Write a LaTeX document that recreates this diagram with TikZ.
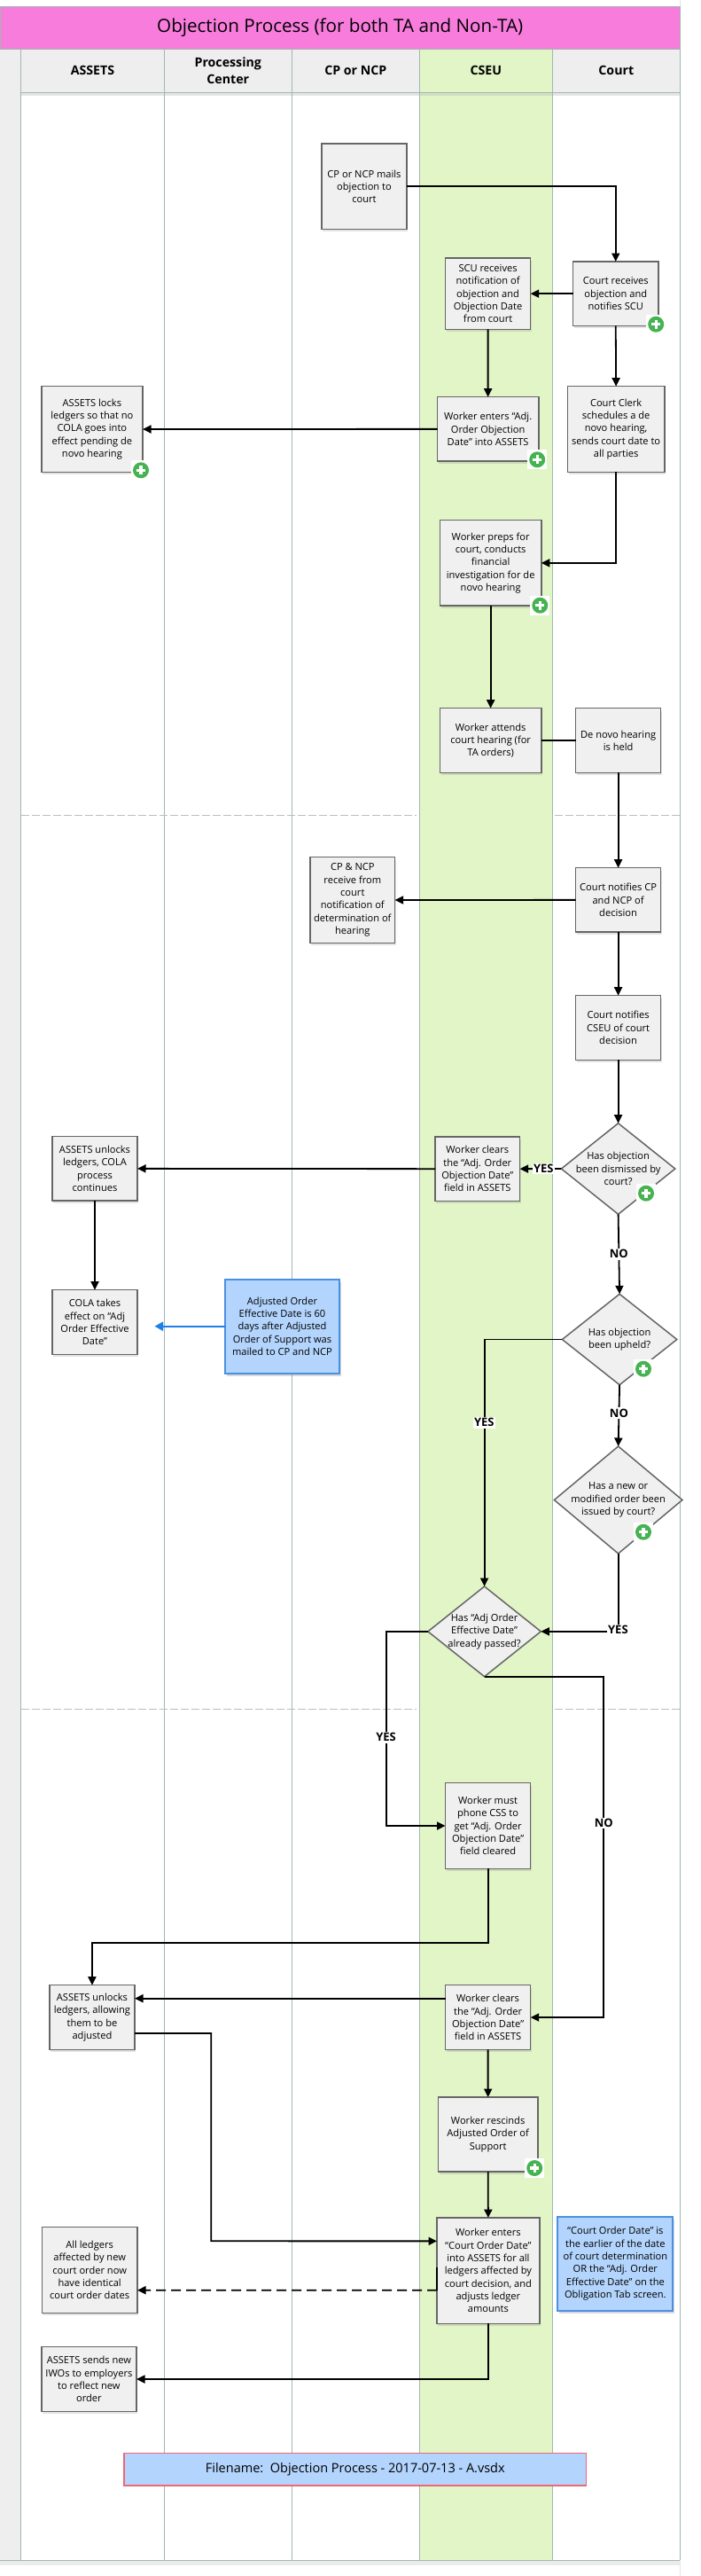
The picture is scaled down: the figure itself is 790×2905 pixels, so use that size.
\documentclass[tikz,border=0pt]{standalone}
\usepackage{fontspec}
\setmainfont{Open Sans}
\usetikzlibrary{shapes.geometric,arrows.meta,shadows}
\definecolor{lanegreen}{HTML}{E1F5C6}
\definecolor{lanegray}{HTML}{EEEEEE}
\definecolor{laneline}{HTML}{A0B8B0}
\definecolor{titlepink}{HTML}{F77CDC}
\definecolor{boxfill}{HTML}{F0F0F0}
\definecolor{boxline}{HTML}{666666}
\definecolor{noteblue}{HTML}{B3D4FC}
\definecolor{noteline}{HTML}{4A90E2}
\definecolor{arrowblue}{HTML}{1E7FE8}
\definecolor{badgegreen}{HTML}{45B352}
\definecolor{fileline}{HTML}{EE6673}
\definecolor{dashgray}{HTML}{BDBDBD}
\tikzset{
  pbox/.style={draw=boxline,line width=1.5pt,fill=boxfill,inner sep=0pt,outer sep=0pt,align=center,
    font=\fontsize{11.1}{14.3}\selectfont,
    drop shadow={shadow xshift=1pt,shadow yshift=-3pt,opacity=.22}},
  notebox/.style={draw=noteline,line width=2pt,fill=noteblue,inner sep=0pt,outer sep=0pt,align=center,
    font=\fontsize{11.1}{14.3}\selectfont,
    drop shadow={shadow xshift=2pt,shadow yshift=-3pt,opacity=.3}},
  filebox/.style={draw=fileline,line width=1.5pt,fill=noteblue,inner sep=0pt,outer sep=0pt,align=center,
    font=\fontsize{14.5}{18}\selectfont},
  decision/.style={diamond,draw=boxline,line width=1.5pt,fill=boxfill,inner sep=0pt,outer sep=0pt},
  dtext/.style={align=center,inner sep=0pt,font=\fontsize{11.1}{14.3}\selectfont},
  flow/.style={draw=black,line width=1.8pt,-{Triangle[length=9.5pt,width=9pt]}},
  plainflow/.style={draw=black,line width=1.8pt},
  flag/.style={fill=white,inner sep=1.5pt,font=\bfseries\fontsize{13}{15}\selectfont},
  lanehead/.style={align=center,inner sep=0pt,font=\bfseries\fontsize{14.2}{19}\selectfont},
  laneedge/.style={draw=laneline,line width=.8pt},
  sepline/.style={draw=dashgray,line width=.8pt,dash pattern=on 9pt off 3pt},
}
\newcommand\rbox[7][pbox]{\node[#1,minimum width={(#5-#3)*1pt},minimum height={(#6-#4)*1pt}] (#2) at ({(#3+#5)/2},{(#4+#6)/2}) {#7};}
\newcommand\dbox[6]{\node[decision,minimum width={(#4-#2)*1pt},minimum height={(#5-#3)*1pt},label={[dtext]center:{#6}}] (#1) at ({(#2+#4)/2},{(#3+#5)/2}) {};}
\newcommand\plusbadge[2]{%
  \fill[white] (#1-11,#2-11) rectangle (#1+11,#2+11);
  \fill[badgegreen] (#1,#2) circle (9pt);
  \fill[white] (#1-5,#2-1.7) rectangle (#1+5,#2+1.7);
  \fill[white] (#1-1.7,#2-5) rectangle (#1+1.7,#2+5);}
\begin{document}
\begin{tikzpicture}[x=1pt,y=-1pt]
\useasboundingbox (0,0) rectangle (790,2905);
\fill[white] (0,0) rectangle (790,2905);
% page shell
\fill[black!8] (0,2887) rectangle (767.4,2893);
\draw[line width=.8pt,black!10] (767.6,0) -- (767.6,2905);
\fill[lanegray] (0,55.7) rectangle (23.7,2887.3);
\fill[lanegreen] (473.3,55.7) rectangle (623.3,2887.3);
\fill[lanegray] (23.7,55.7) rectangle (473.3,104.5);
\fill[lanegray] (623.3,55.7) rectangle (767.4,104.5);
\fill[black!10] (23.7,105) rectangle (767.4,108);
\fill[lanegreen!85!black!70] (473.3,105) rectangle (623.3,108);
\foreach \lx in {23.7,185.3,329.3,473.3,623.3,767.4}{\draw[laneedge] (\lx,55.7) -- (\lx,2887.3);}
\draw[laneedge,line width=1.4pt] (23.7,104.5) -- (767.4,104.5);
\draw[laneedge] (0,2887.3) -- (767.4,2887.3);
\draw[sepline] (23.7,919.3) -- (470,919.3);
\draw[sepline] (626,919.3) -- (767.4,919.3);
\draw[sepline] (23.7,1927.3) -- (470,1927.3);
\draw[sepline] (626,1927.3) -- (767.4,1927.3);
% title and lane heads
\node[draw=laneline,line width=.8pt,fill=titlepink,minimum width=767.4pt,minimum height=48.4pt,inner sep=0pt,outer sep=0pt,font=\fontsize{20.6}{24}\selectfont] (title) at (383.7,31.5) {Objection Process (for both TA and Non-TA)};
\node[lanehead] (hassets) at (104.5,79) {ASSETS};
\node[lanehead] (hproc) at (257.3,79.5) {Processing\\Center};
\node[lanehead] (hcp) at (401.3,79) {CP or NCP};
\node[lanehead] (hcseu) at (548.3,79) {CSEU};
\node[lanehead] (hcourt) at (695.3,79) {Court};
% process boxes
\rbox{mail}{363}{162}{459}{258.3}{CP or NCP mails\\objection to\\court}
\rbox{scu}{502.5}{291}{598.7}{371.3}{SCU receives\\notification of\\objection and\\Objection Date\\from court}
\rbox{crecv}{646.5}{295}{743}{367.3}{Court receives\\objection and\\notifies SCU}
\rbox{alock}{46.8}{435.7}{161}{532.3}{ASSETS locks\\ledgers so that no\\COLA goes into\\effect pending de\\novo hearing}
\rbox{wenter}{493.5}{447.7}{607.8}{520}{Worker enters “Adj.\\Order Objection\\Date” into ASSETS}
\rbox{clerk}{640.5}{435.7}{749.8}{532.3}{Court Clerk\\schedules a de\\novo hearing,\\sends court date to\\all parties}
\rbox{wprep}{496.5}{586.7}{610.8}{683}{Worker preps for\\court, conducts\\financial\\investigation for de\\novo hearing}
\rbox{wattend}{496.5}{798.7}{610.8}{871.3}{Worker attends\\court hearing (for\\TA orders)}
\rbox{denovo}{649.5}{798.7}{745.7}{871.3}{De novo hearing\\is held}
\rbox{cprecv}{350}{966.7}{445.6}{1063.3}{CP \& NCP\\receive from\\court\\notification of\\determination of\\hearing}
\rbox{cnotcp}{649.5}{978.7}{745.7}{1051}{Court notifies CP\\and NCP of\\decision}
\rbox{cnotcs}{649.5}{1122.7}{745.7}{1195.3}{Court notifies\\CSEU of court\\decision}
\dbox{ddism}{633.4}{1266.7}{761.8}{1369.3}{Has objection\\been dismissed by\\court?}
\rbox{wclear}{491}{1282}{586.6}{1354.3}{Worker clears\\the “Adj. Order\\Objection Date”\\field in ASSETS}
\rbox{aunl}{59}{1281.7}{155}{1354}{ASSETS unlocks\\ledgers, COLA\\process\\continues}
\rbox{cola}{59}{1454.7}{155}{1527.3}{COLA takes\\effect on “Adj\\Order Effective\\Date”}
\rbox[notebox]{nadj}{253.8}{1442.7}{383.2}{1548.7}{Adjusted Order\\Effective Date is 60\\days after Adjusted\\Order of Support was\\mailed to CP and NCP}
\dbox{dupheld}{634.4}{1459.3}{763.8}{1561.7}{Has objection\\been upheld?}
\dbox{dnew}{625.4}{1631}{769.9}{1752}{Has a new or\\modified order been\\issued by court?}
\dbox{dpass}{482.9}{1789}{610.3}{1890.7}{Has “Adj Order\\Effective Date”\\already passed?}
\rbox{wphone}{502.5}{2010.7}{598.7}{2107.3}{Worker must\\phone CSS to\\get “Adj. Order\\Objection Date”\\field cleared}
\rbox{aunl2}{55.9}{2238.7}{152}{2311.3}{ASSETS unlocks\\ledgers, allowing\\them to be\\adjusted}
\rbox{wclear2}{502.5}{2238.7}{598.7}{2311.3}{Worker clears\\the “Adj. Order\\Objection Date”\\field in ASSETS}
\rbox{wresc}{494.5}{2365}{606.8}{2449}{Worker rescinds\\Adjusted Order of\\Support}
\rbox{wcourt}{493}{2501}{608.8}{2620.3}{Worker enters\\“Court Order Date”\\into ASSETS for all\\ledgers affected by\\court decision, and\\adjusts ledger\\amounts}
\rbox[notebox]{ncourt}{629.4}{2499.7}{759.3}{2605.7}{“Court Order Date” is\\the earlier of the date\\of court determination\\OR the “Adj. Order\\Effective Date” on the\\Obligation Tab screen.}
\rbox{aall}{47.3}{2511.7}{155}{2608.3}{All ledgers\\affected by new\\court order now\\have identical\\court order dates}
\rbox{asend}{46.8}{2646.7}{154}{2719.3}{ASSETS sends new\\IWOs to employers\\to reflect new\\order}
\rbox[filebox]{fname}{140}{2766.7}{661.6}{2803}{Filename:\ \ Objection Process - 2017-07-13 - A.vsdx}
% connectors
\coordinate (blueend) at (174.5,1495.7);
\draw[flow] (mail.east) -| (crecv.north);
\draw[flow] (crecv.west) -- (scu.east);
\draw[flow] (scu.south) -- (wenter.north);
\draw[flow] (crecv.south) -- (clerk.north);
\draw[flow] (wenter.west) -- (alock.east);
\draw[flow] (clerk.south) |- (wprep.east);
\draw[flow] (wprep.south) -- (wattend.north);
\draw[plainflow] (denovo.west) -- (wattend.east);
\draw[flow] (denovo.south) -- (cnotcp.north);
\draw[flow] (cnotcp.west) -- (cprecv.east);
\draw[flow] (cnotcp.south) -- (cnotcs.north);
\draw[flow] (cnotcs.south) -- (ddism.north);
\draw[flow] (ddism.west) -- node[flag,pos=.43] {YES} (wclear.east);
\draw[flow] (wclear.west) -- (aunl.east);
\draw[flow] (aunl.south) -- (cola.north);
\draw[draw=arrowblue,line width=2.2pt,-{Triangle[length=9.5pt,width=10pt]}] (nadj.west) -- (blueend);
\draw[flow] (ddism.south) -- node[flag,pos=.5] {NO} (dupheld.north);
\draw[flow] (dupheld.west) -| (dpass.north);
\node[flag] (yes2) at (546.3,1604.3) {YES};
\draw[flow] (dupheld.south) -- node[flag,pos=.46] {NO} (dnew.north);
\draw[flow] (dnew.south) |- (dpass.east);
\node[flag] (yes4) at (697.4,1838.3) {YES};
\draw[flow] (dpass.west) -| (435.6,2059) -- (wphone.west);
\node[flag] (yes5) at (435.6,1959.3) {YES};
\draw[flow] (dpass.south) -| (681.3,2275) -- (wclear2.east);
\node[flag] (no3) at (681.3,2056) {NO};
\draw[flow] (wphone.south) |- (103.95,2191) -- (aunl2.north);
\draw[flow] ([yshift=21.3pt]wclear2.west) -- ([yshift=21.3pt]aunl2.east);
\draw[flow] (wclear2.south) -- (wresc.north);
\draw[flow] (wresc.south) -- (wcourt.north);
\draw[flow] ([yshift=-18pt]aunl2.east) -| (238.2,2527.3) -- ([yshift=33.3pt]wcourt.west);
\draw[draw=black,line width=1.5pt] ([yshift=4pt]wcourt.west) -- ([yshift=-22pt]wcourt.west);
\draw[flow,dashed,dash pattern=on 11pt off 6pt] ([yshift=-22pt]wcourt.west) -- ([yshift=-22.7pt]aall.east);
\draw[flow] (wcourt.south) |- (asend.east);
% badges
\plusbadge{740.2}{365.7}
\plusbadge{159}{530.3}
\plusbadge{606.2}{518.3}
\plusbadge{609.3}{682.7}
\plusbadge{729}{1345.7}
\plusbadge{726}{1543.7}
\plusbadge{726}{1727.7}
\plusbadge{603.2}{2445}
\end{tikzpicture}
\end{document}
